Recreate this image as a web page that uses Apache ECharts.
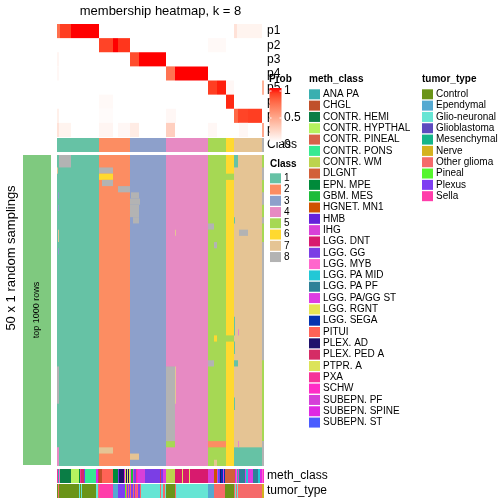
<!DOCTYPE html>
<html><head><meta charset="utf-8">
<script src="https://cdn.jsdelivr.net/npm/echarts@6/dist/echarts.min.js"></script>
<style>html,body{margin:0;padding:0;background:#fff}#c{width:504px;height:504px}</style>
</head><body><div id="c"></div>
<script>
// ---------------- data ----------------
const NCOL = 207;          // number of sample columns
const NSAMP = 50;          // 50 x 1 random samplings
const classLabels = ['1','2','3','4','5','6','7','8'];
const classColors = ['#66C2A5','#FC8D62','#8DA0CB','#E78AC3','#A6D854','#FFD92F','#E5C494','#B3B3B3'];
// consensus class per column, run-length [class, width]
const classRuns = [[1,42],[2,31],[3,36],[4,42],[5,18],[6,8],[7,28],[8,2]];
const probRowLabels = ['p1','p2','p3','p4','p5','p6','p7','p8'];
// membership probability runs [row, colFrom, width, prob]
const probRuns = [
 [0,0,3,0.72],[0,3,11,0.9],[0,14,28,1],[0,177,3,0.15],[0,180,25,0.06],
 [1,42,14,0.88],[1,56,5,1],[1,61,12,0.92],[1,151,18,0.03],
 [2,0,2,0.05],[2,73,9,0.85],[2,82,27,1],
 [3,0,2,0.04],[3,109,9,0.7],[3,118,33,1],
 [4,151,9,0.9],[4,160,9,0.97],[4,169,8,0.04],[4,205,2,0.4],
 [5,169,8,0.95],[5,42,14,0.03],
 [6,0,2,0.08],[6,109,9,0.04],[6,118,1,0.04],[6,177,4,0.75],[6,181,10,0.88],[6,191,14,0.9],[6,42,14,0.02],
 [7,0,2,0.15],[7,2,12,0.06],[7,42,14,0.05],[7,61,12,0.04],[7,73,9,0.1],[7,109,9,0.25],[7,151,9,0.04],[7,182,9,0.04],[7,205,2,0.45]
];
// samplings that differ from consensus [rowFrom, rowTo, colFrom, width, class]
const samplingExceptions = [
 [0,1,2,12,8],[2,2,0,1,7],[2,2,42,14,8],[3,3,42,14,6],[4,4,45,11,8],[5,5,61,12,8],
 [6,6,74,8,8],[7,7,73,10,8],[8,9,73,9,8],[10,10,76,6,8],[11,11,151,6,8],[14,14,157,3,8],
 [3,3,169,8,5],[0,1,177,4,1],[12,12,182,9,8],[10,10,177,1,1],[12,12,118,1,7],
 [34,45,109,9,8],[46,46,109,9,5],[34,39,118,1,7],[29,29,157,3,6],[33,33,151,6,8],
 [46,46,151,18,2],[49,49,157,3,7],[29,29,169,8,5],[33,33,177,4,1],[28,28,181,1,4],
 [47,49,177,28,1],[46,46,181,1,4],[26,28,177,1,1],[30,31,177,1,1],[39,40,177,1,1],
 [0,1,205,2,5],[4,5,205,2,5],[8,9,205,2,5],[11,13,205,2,5],[33,45,205,2,5],
 [6,6,1,1,3],[8,8,1,1,3],[15,15,1,1,3],[12,13,1,1,7],[34,39,0,2,8],[47,49,0,2,4],
 [47,47,42,14,7],[48,48,73,9,7]
];
const methNames = ['ANA PA','CHGL','CONTR. HEMI','CONTR. HYPTHAL','CONTR. PINEAL','CONTR. PONS','CONTR. WM','DLGNT','EPN. MPE','GBM. MES','HGNET. MN1','HMB','IHG','LGG. DNT','LGG. GG','LGG. MYB','LGG. PA MID','LGG. PA PF','LGG. PA/GG ST','LGG. RGNT','LGG. SEGA','PITUI','PLEX. AD','PLEX. PED A','PTPR. A','PXA','SCHW','SUBEPN. PF','SUBEPN. SPINE','SUBEPN. ST'];
const methColors = ['#3AAFB0','#C0502A','#0A7D45','#B5F25F','#D8614A','#35EA92','#BCD34E','#D2603A','#008A3A','#1DBC3A','#CF5300','#6421DA','#D840D8','#D81A6E','#7B3EE5','#FF66CC','#22C8D6','#2E8198','#DD3DE3','#E6E454','#0433B0','#FF6356','#1F116B','#D52C65','#DCE35A','#F53399','#FF2CC6','#D53FD8','#DF29E3','#4A5CFF'];
// [methIndex, width]
const methRuns = [[25,1],[0,1],[15,1],[2,11],[3,8],[8,1],[25,1],[23,3],[14,1],[5,11],[28,2],[23,1],[1,3],[21,11],[8,5],[14,1],[22,5],[28,1],[24,1],[22,1],[24,1],[22,1],[19,1],[15,1],[9,2],[27,1],[14,2],[25,1],[26,1],[18,2],[12,5],[14,15],[23,1],[14,2],[18,3],[6,9],[13,7],[24,1],[13,6],[24,1],[13,18],[12,6],[10,3],[18,1],[29,1],[14,1],[22,1],[20,2],[18,1],[20,1],[7,10],[28,1],[15,1],[0,1],[27,1],[17,6],[18,1],[16,2],[27,2],[18,3],[17,5],[16,2],[28,2],[15,1],[26,1]];
const tumorNames = ['Control','Ependymal','Glio-neuronal','Glioblastoma','Mesenchymal','Nerve','Other glioma','Pineal','Plexus','Sella'];
const tumorColors = ['#6A9418','#55A9D1','#66E5D4','#5D4BBF','#14B58A','#D4B21F','#F56A6A','#55F52C','#7E3FF2','#FF3DAA'];
// [tumorIndex, width]
const tumorRuns = [[0,1],[6,1],[0,20],[2,1],[0,1],[2,1],[0,14],[2,2],[6,1],[9,14],[1,5],[8,7],[7,1],[6,1],[8,1],[6,1],[8,1],[6,1],[8,2],[6,1],[8,1],[6,1],[9,1],[6,1],[8,2],[6,1],[2,19],[6,1],[2,2],[6,2],[2,1],[0,9],[6,1],[2,32],[1,6],[6,11],[0,9],[6,1],[2,1],[6,1],[2,1],[6,24],[5,2]];

// ---------------- helpers ----------------
function toLin(c){c/=255;return c<=0.04045?c/12.92:Math.pow((c+0.055)/1.055,2.4);}
function toS(c){c=c<=0.0031308?12.92*c:1.055*Math.pow(c,1/2.4)-0.055;return Math.round(Math.max(0,Math.min(1,c))*255);}
function rgb2lab(r,g,b){r=toLin(r);g=toLin(g);b=toLin(b);
 let X=(0.4124*r+0.3576*g+0.1805*b)/0.95047,Y=0.2126*r+0.7152*g+0.0722*b,Z=(0.0193*r+0.1192*g+0.9505*b)/1.08883;
 const f=t=>t>0.008856?Math.cbrt(t):7.787*t+16/116;const fx=f(X),fy=f(Y),fz=f(Z);
 return [116*fy-16,500*(fx-fy),200*(fy-fz)];}
function lab2rgb(L,a,b){const fy=(L+16)/116,fx=fy+a/500,fz=fy-b/200;
 const fi=t=>t*t*t>0.008856?t*t*t:(t-16/116)/7.787;
 const X=fi(fx)*0.95047,Y=fi(fy),Z=fi(fz)*1.08883;
 const r=3.2406*X-1.5372*Y-0.4986*Z,g=-0.9689*X+1.8758*Y+0.0415*Z,bb=0.0557*X-0.2040*Y+1.0570*Z;
 return 'rgb('+toS(r)+','+toS(g)+','+toS(bb)+')';}
const LW=rgb2lab(255,255,255),LR=rgb2lab(255,0,0);
function probColor(v){return lab2rgb(LW[0]+(LR[0]-LW[0])*v,LW[1]+(LR[1]-LW[1])*v,LW[2]+(LR[2]-LW[2])*v);}

function runsToRects(runs){const out=[];let c=0;runs.forEach(r=>{out.push([c,0,r[1],1,r[0]]);c+=r[1];});return out;}
function makeRender(colorFn){return function(params,api){
 const x0=api.value(0),y0=api.value(1),w=api.value(2),h=api.value(3);
 const a=api.coord([x0,y0]),b=api.coord([x0+w,y0+h]);
 return {type:'rect',shape:{x:a[0],y:Math.min(a[1],b[1]),width:b[0]-a[0],height:Math.abs(b[1]-a[1])},
  style:{fill:colorFn(api.value(4))}};};}

const classRects = runsToRects(classRuns.map(r=>[r[0]-1,r[1]]));
const mainRects = classRuns.reduce((acc,r)=>{acc.list.push([acc.c,0,r[1],NSAMP,r[0]-1]);acc.c+=r[1];return acc;},{c:0,list:[]}).list
  .concat(samplingExceptions.map(e=>[e[2],e[0],e[3],e[1]-e[0]+1,e[4]-1]));
const probRects = probRuns.map(p=>[p[1],p[0],p[2],1,p[3]]);
const methRects = runsToRects(methRuns);
const tumorRects = runsToRects(tumorRuns);

const FONT='"Liberation Sans", Arial, Helvetica, sans-serif';
const L=57,W=207;
const grids=[
 {left:L,top:24,width:W,height:113},
 {left:L,top:138,width:W,height:14},
 {left:L,top:155,width:W,height:311},
 {left:L,top:469,width:W,height:14},
 {left:L,top:484,width:W,height:14}
];
const rowsPerGrid=[8,1,NSAMP,1,1];
const xAxes=grids.map((g,i)=>({type:'value',gridIndex:i,min:0,max:NCOL,show:false}));
const yAxes=grids.map((g,i)=>({type:'value',gridIndex:i,min:0,max:rowsPerGrid[i],inverse:true,show:false}));
function labelAxis(gi,data){return {type:'category',gridIndex:gi,data:data,position:'right',inverse:true,
 axisLine:{show:false},axisTick:{show:false},splitLine:{show:false},
 axisLabel:{interval:0,fontSize:12,color:'#000',margin:3,fontFamily:FONT}};}
yAxes.push(labelAxis(0,probRowLabels),labelAxis(1,['Class']),labelAxis(3,['meth_class']),labelAxis(4,['tumor_type']));

const series=[
 {type:'custom',xAxisIndex:0,yAxisIndex:0,data:probRects,renderItem:makeRender(probColor),silent:true},
 {type:'custom',xAxisIndex:1,yAxisIndex:1,data:classRects,renderItem:makeRender(i=>classColors[i]),silent:true},
 {type:'custom',xAxisIndex:2,yAxisIndex:2,data:mainRects,renderItem:makeRender(i=>classColors[i]),silent:true},
 {type:'custom',xAxisIndex:3,yAxisIndex:3,data:methRects,renderItem:makeRender(i=>methColors[i]),silent:true},
 {type:'custom',xAxisIndex:4,yAxisIndex:4,data:tumorRects,renderItem:makeRender(i=>tumorColors[i]),silent:true}
];

// ---------------- graphics (titles, legends) ----------------
const g=[];
function txt(x,y,s,opt){g.push(Object.assign({type:'text',x:x,y:y,z:100,style:Object.assign({text:s,fill:'#000',font:'10px '+FONT,textVerticalAlign:'middle'},opt||{})}));}
txt(160.5,11,'membership heatmap, k = 8',{font:'13px '+FONT,textAlign:'center'});
// left slice bar + titles
g.push({type:'rect',shape:{x:23,y:155,width:28,height:310},style:{fill:'#7FC97F'},z:1});
g.push({type:'text',x:11,y:258,rotation:Math.PI/2,z:100,style:{text:'50 x 1 random samplings',font:'13px '+FONT,fill:'#000',textAlign:'center',textVerticalAlign:'middle'}});
g.push({type:'text',x:37,y:310,rotation:Math.PI/2,z:100,style:{text:'top 1000 rows',font:'9px '+FONT,fill:'#000',textAlign:'center',textVerticalAlign:'middle'}});
// Prob legend
const stops=[];for(let i=0;i<=10;i++){stops.push({offset:i/10,color:probColor(1-i/10)});}
g.push({type:'rect',z:100,shape:{x:269.5,y:88,width:12,height:54},style:{fill:new echarts.graphic.LinearGradient(0,0,0,1,stops)}});
[[91],[118]].forEach(p=>{g.push({type:'line',z:101,shape:{x1:269.5,y1:p[0],x2:271.5,y2:p[0]},style:{stroke:'#fff',lineWidth:1}});
 g.push({type:'line',z:101,shape:{x1:279.5,y1:p[0],x2:281.5,y2:p[0]},style:{stroke:'#fff',lineWidth:1}});});
txt(269,79,'Prob',{font:'bold 10px '+FONT});
txt(284,91,'1',{font:'12px '+FONT});
txt(284,118,'0.5',{font:'12px '+FONT});
txt(284,145,'0',{font:'12px '+FONT});
// Class legend
txt(270,164,'Class',{font:'bold 10px '+FONT});
classLabels.forEach((s,i)=>{const y=178.3+11.25*i;
 g.push({type:'rect',z:100,shape:{x:270,y:y-5,width:11,height:10},style:{fill:classColors[i]}});
 txt(284,y,s,{font:'10px '+FONT});});
// meth_class legend
txt(309,79,'meth_class',{font:'bold 10px '+FONT});
methNames.forEach((s,i)=>{const y=94.3+11.32*i;
 g.push({type:'rect',z:100,shape:{x:309,y:y-5,width:11,height:10},style:{fill:methColors[i]}});
 txt(323,y,s);});
// tumor_type legend
txt(422,79,'tumor_type',{font:'bold 10px '+FONT});
tumorNames.forEach((s,i)=>{const y=94.3+11.32*i;
 g.push({type:'rect',z:100,shape:{x:422,y:y-5,width:11,height:10},style:{fill:tumorColors[i]}});
 txt(436,y,s);});

const chart=echarts.init(document.getElementById('c'),null,{renderer:'canvas'});
chart.setOption({animation:false,backgroundColor:'#fff',grid:grids,xAxis:xAxes,yAxis:yAxes,series:series,graphic:{elements:g}});
</script></body></html>
